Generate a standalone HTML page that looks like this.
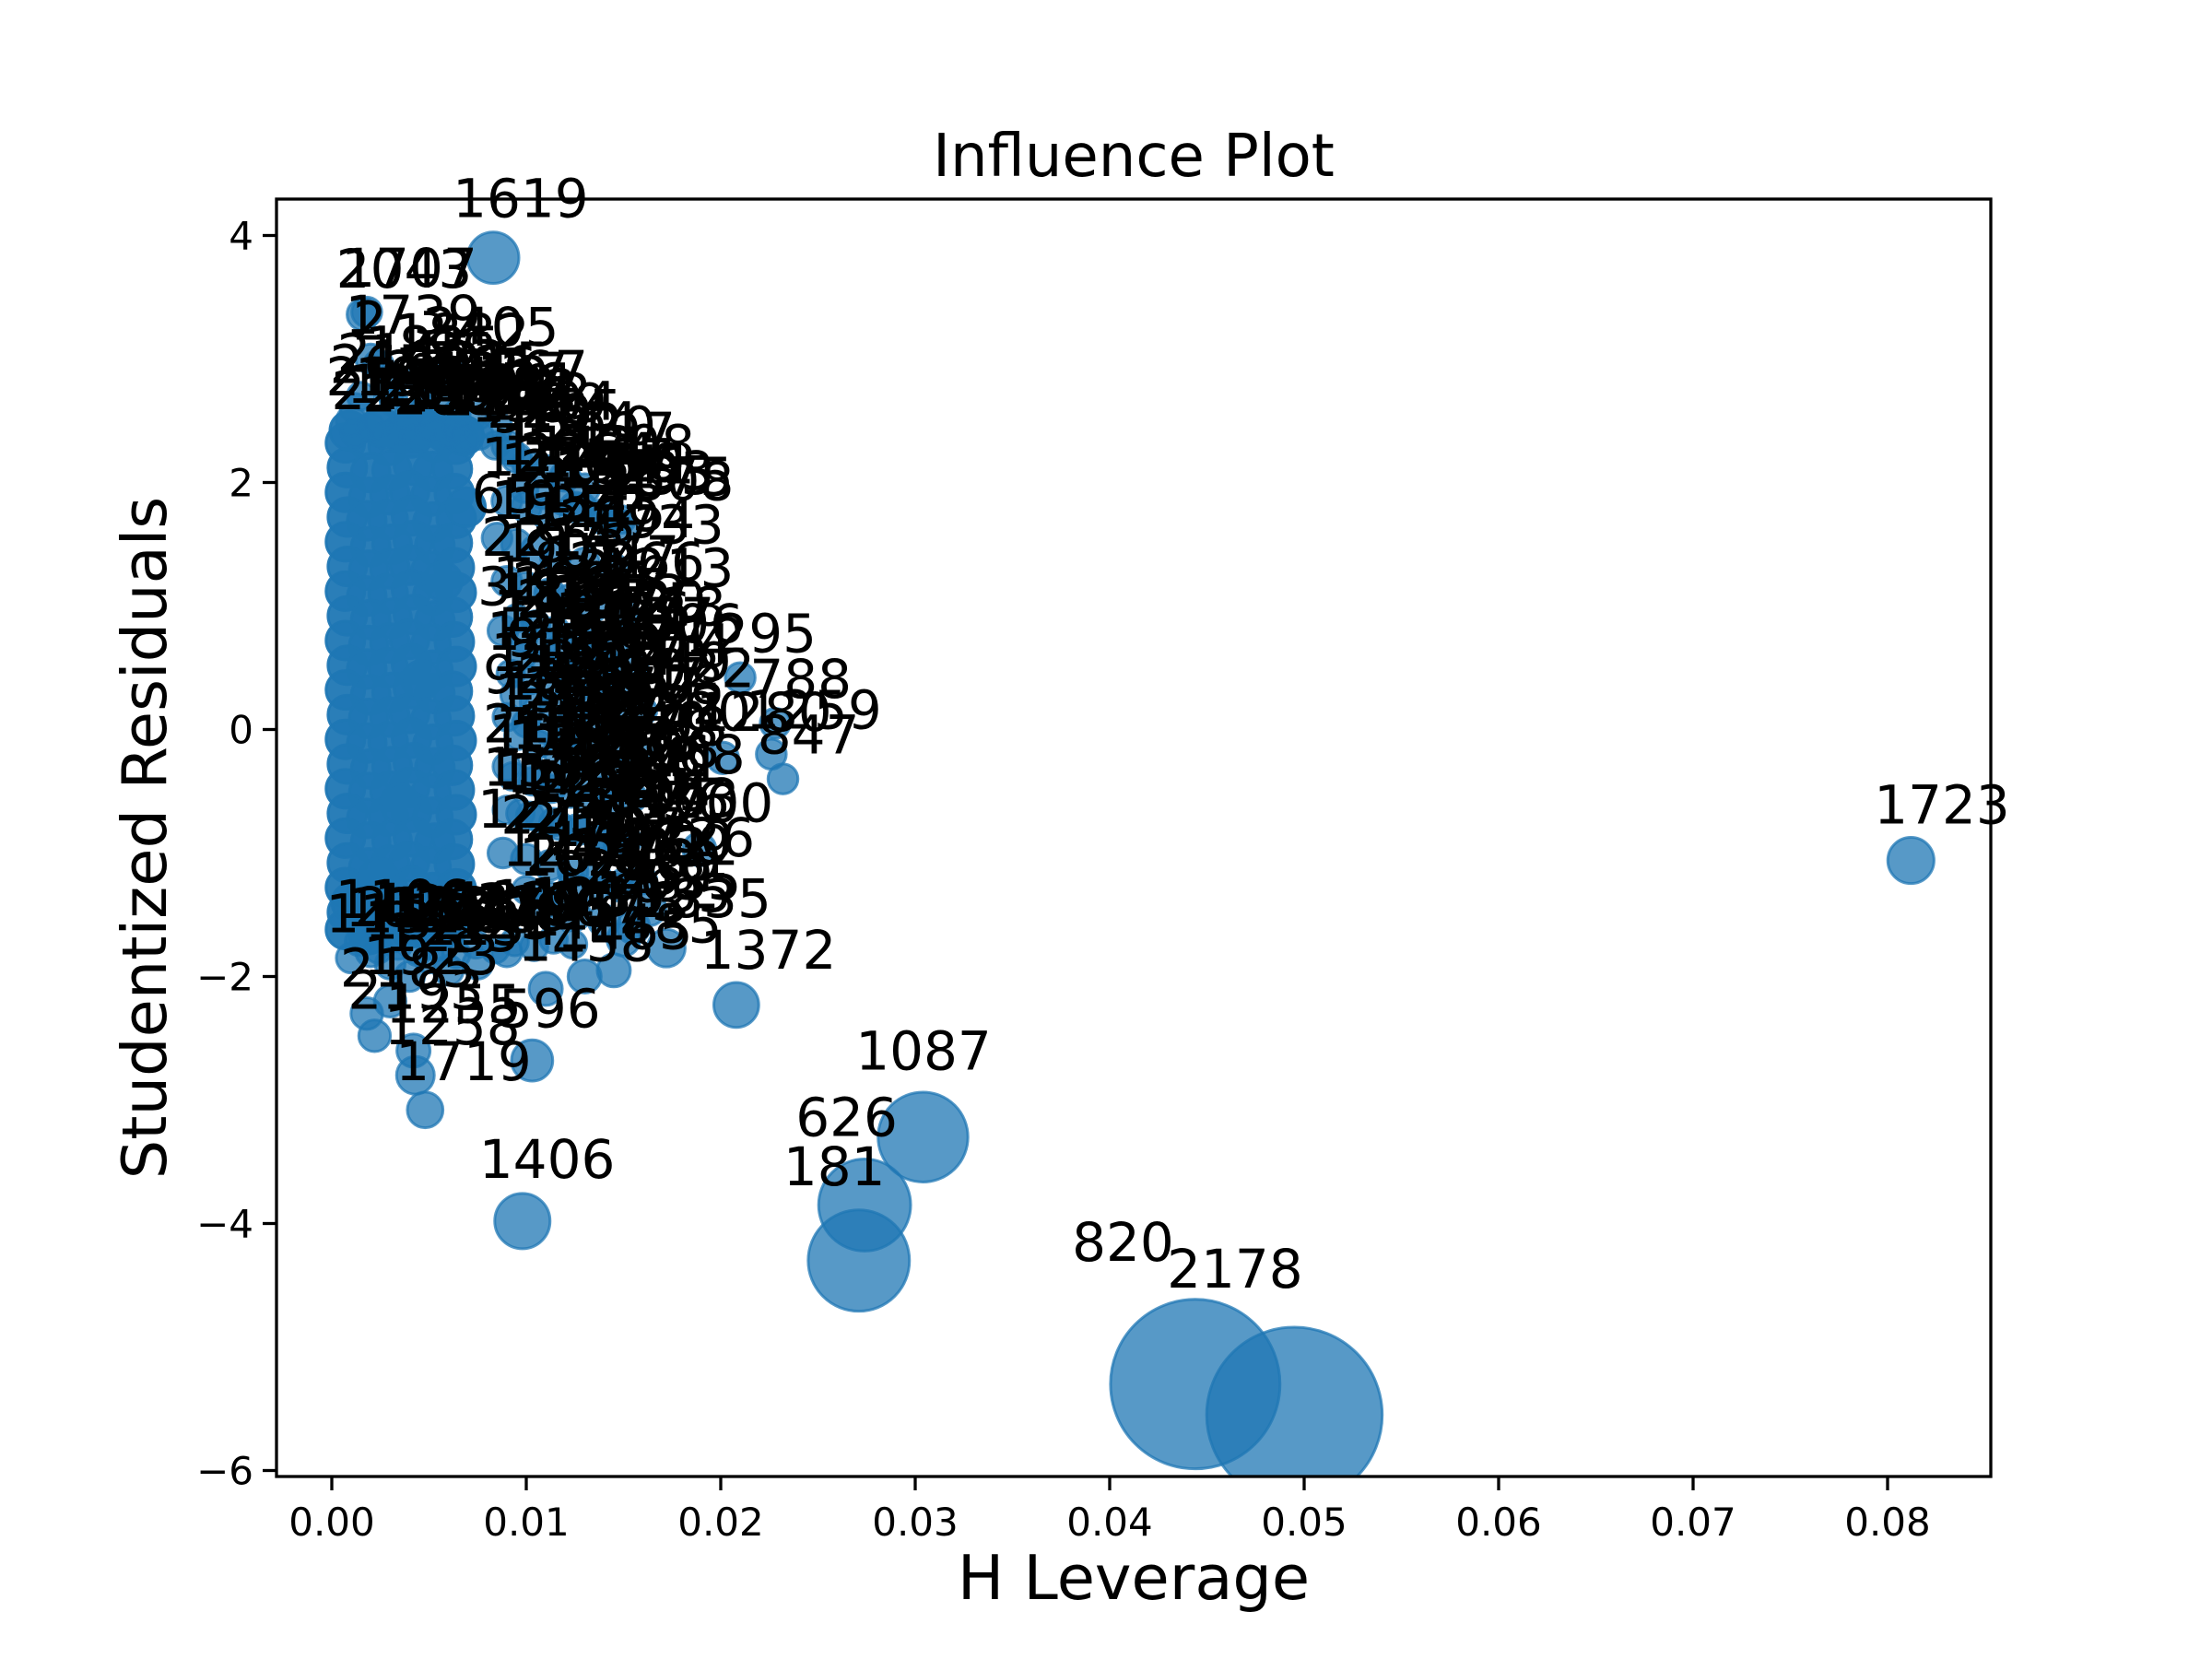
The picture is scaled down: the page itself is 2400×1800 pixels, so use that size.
<!DOCTYPE html>
<html><head><meta charset="utf-8">
<style>
html,body{margin:0;padding:0;background:#fff;}
svg{display:block;}
text{font-family:"DejaVu Sans","Liberation Sans",sans-serif;}
</style></head>
<body>
<svg id="chart" width="2400" height="1800" viewBox="0 0 2400 1800" xmlns="http://www.w3.org/2000/svg">
<rect x="0" y="0" width="2400" height="1800" fill="#fff"/>
<text x="1230" y="191" font-size="64" text-anchor="middle">Influence Plot</text>
<text x="1230" y="1735" font-size="67" text-anchor="middle">H Leverage</text>
<text x="0" y="0" font-size="67" text-anchor="middle" transform="translate(180,909) rotate(-90)">Studentized Residuals</text>
<g id="marks"></g>
<g id="labels"></g>
<g id="axes"></g>
</svg>
<script>
// x tick values and labels
const xTicks = [0,0.01,0.02,0.03,0.04,0.05,0.06,0.07,0.08];
const xTickLabels = ["0.00","0.01","0.02","0.03","0.04","0.05","0.06","0.07","0.08"];
const yTicks = [4,2,0,-2,-4,-6];
const yTickLabels = ["4","2","0","\u22122","\u22124","\u22126"];

// dense unlabeled cluster: leverage and studentized residuals
const blobLev = [
0.0007,0.0018,0.0029,0.0041,0.0053,0.0064,
0.0008,0.0020,0.0031,0.0042,0.0052,0.0062,
0.0007,0.0019,0.0030,0.0040,0.0051,0.0063,
0.0008,0.0018,0.0029,0.0041,0.0052,0.0064,
0.0007,0.0020,0.0031,0.0042,0.0053,0.0062,
0.0008,0.0019,0.0030,0.0040,0.0051,0.0063,
0.0007,0.0018,0.0029,0.0041,0.0052,0.0064,
0.0008,0.0020,0.0031,0.0042,0.0053,0.0062,
0.0007,0.0019,0.0030,0.0040,0.0051,0.0063,
0.0008,0.0018,0.0029,0.0041,0.0052,0.0064,
0.0007,0.0020,0.0031,0.0042,0.0053,0.0062,
0.0008,0.0019,0.0030,0.0040,0.0051,0.0063,
0.0007,0.0018,0.0029,0.0041,0.0052,0.0064,
0.0008,0.0020,0.0031,0.0042,0.0053,0.0062,
0.0007,0.0019,0.0030,0.0040,0.0051,0.0063,
0.0008,0.0018,0.0029,0.0041,0.0052,0.0064,
0.0007,0.0020,0.0031,0.0042,0.0053,0.0062,
0.0008,0.0019,0.0030,0.0040,0.0051,0.0063,
0.0007,0.0018,0.0029,0.0041,0.0052,0.0064,
0.0008,0.0020,0.0031,0.0042,0.0053,0.0062,
0.0007,0.0019,0.0030,0.0040,0.0051,0.0060,
0.0009,0.0025,0.0036,0.0047,0.0058,0.0068,
0.0010,0.0024,0.0035,0.0046,0.0057,0.0069
];
const blobRes = [
2.32,2.35,2.30,2.36,2.33,2.31,
2.12,2.08,2.10,2.14,2.09,2.11,
1.92,1.88,1.90,1.93,1.89,1.91,
1.72,1.69,1.70,1.73,1.68,1.71,
1.52,1.48,1.50,1.53,1.49,1.51,
1.32,1.29,1.30,1.33,1.28,1.31,
1.12,1.08,1.10,1.13,1.09,1.11,
0.92,0.89,0.90,0.93,0.88,0.91,
0.72,0.68,0.70,0.73,0.69,0.71,
0.52,0.49,0.50,0.53,0.48,0.51,
0.32,0.28,0.30,0.33,0.29,0.31,
0.12,0.09,0.10,0.13,0.08,0.11,
-0.08,-0.11,-0.10,-0.07,-0.12,-0.09,
-0.28,-0.32,-0.30,-0.27,-0.31,-0.29,
-0.48,-0.51,-0.50,-0.47,-0.52,-0.49,
-0.68,-0.72,-0.70,-0.67,-0.71,-0.69,
-0.88,-0.91,-0.90,-0.87,-0.92,-0.89,
-1.08,-1.12,-1.10,-1.07,-1.11,-1.09,
-1.28,-1.31,-1.30,-1.27,-1.32,-1.29,
-1.48,-1.52,-1.50,-1.47,-1.51,-1.49,
-1.62,-1.66,-1.65,-1.61,-1.64,-1.60,
2.42,2.45,2.40,2.44,2.41,2.38,
-1.40,-1.20,-0.60,0.40,1.20,1.80
];

// labeled points: leverage, residual, cook's distance, label
const ptLev = [0.0083,0.0812,0.0208,0.0304,0.0274,0.0271,0.0444,0.0495,0.0098,0.0210,0.0228,0.0232,0.0201,0.0226,0.0189,0.0163,0.0172,0.0048,0.0043,0.0103,
0.0016,0.0018,0.0020,0.0024,0.0045,0.0060,0.0012,0.0030,0.0055,0.0075,0.0085,0.0010,0.0025,0.0040,0.0065,0.0070,0.0090,0.0095,0.0110,0.0120,0.0130,
0.0090,0.0100,0.0110,0.0125,0.0140,0.0150,0.0085,0.0095,0.0105,0.0115,0.0130,0.0145,0.0090,0.0100,0.0112,0.0122,0.0135,0.0150,0.0088,0.0098,0.0108,0.0118,0.0128,0.0140,0.0155,
0.0092,0.0102,0.0112,0.0124,0.0136,0.0148,0.0160,0.0090,0.0100,0.0110,0.0120,0.0132,0.0145,0.0158,0.0090,0.0105,0.0118,0.0130,0.0142,0.0155,0.0090,0.0102,0.0114,0.0126,0.0138,0.0152,
0.0088,0.0100,0.0112,0.0124,0.0136,0.0150,0.0110,0.0125,0.0140,0.0155,
0.0010,0.0018,0.0022,0.0030,0.0040,0.0050,0.0060,0.0042,0.0075,0.0090,0.0110,0.0130,0.0145,0.0150,0.0030,0.0020,
0.0012,0.0020,0.0028,0.0036,0.0044,0.0052,0.0060,0.0068,0.0076,0.0084,0.0092,0.0100,0.0015,0.0032,0.0048,0.0064,
0.0095,0.0105,0.0115,0.0125,0.0135,0.0145,0.0098,0.0108,0.0118,0.0128,0.0138,0.0148,0.0094,0.0104,0.0114,0.0124,0.0134,0.0144,
0.0096,0.0106,0.0116,0.0126,0.0136,0.0146,0.0093,0.0103,0.0113,0.0123,0.0133,0.0143,0.0097,0.0107,0.0117,0.0127,0.0137,0.0147,
0.0099,0.0109,0.0119,0.0129,0.0139,0.0149,0.0100,0.0112,0.0124,0.0136,0.0148,0.0160,
0.0014,0.0024,0.0034,0.0044,0.0054,0.0064,0.0074,0.0084,0.0094,0.0104,0.0114,0.0124];
const ptRes = [3.82,-1.06,-2.23,-3.30,-3.85,-4.30,-5.30,-5.55,-3.98,0.42,0.05,-0.40,-0.23,-0.20,-0.97,-1.45,-1.77,-3.08,-2.80,-2.68,
3.36,3.38,3.00,2.95,2.85,2.90,2.60,2.75,2.62,2.55,2.45,2.50,2.50,2.55,2.45,2.40,2.30,2.20,2.10,2.05,1.95,
1.85,1.80,1.75,1.80,1.70,1.65,1.55,1.50,1.45,1.40,1.35,1.30,1.20,1.15,1.10,1.05,1.00,0.95,0.80,0.75,0.70,0.65,0.60,0.55,0.50,
0.45,0.40,0.35,0.30,0.25,0.20,0.15,0.10,0.05,0.00,-0.05,-0.10,-0.15,-0.20,-0.30,-0.35,-0.40,-0.45,-0.50,-0.55,-0.65,-0.70,-0.75,-0.80,-0.85,-0.90,
-1.00,-1.05,-1.10,-1.15,-1.20,-1.25,-1.40,-1.50,-1.55,-1.60,
-1.85,-2.30,-2.48,-1.90,-2.00,-1.85,-1.95,-2.60,-1.90,-1.80,-2.10,-2.00,-1.95,-1.70,-2.20,-1.80,
2.40,2.45,2.38,2.42,2.36,2.44,2.40,2.35,2.38,2.30,2.25,2.15,2.70,2.65,2.60,2.55,
0.90,0.85,0.80,0.75,0.70,0.65,0.60,0.55,0.50,0.45,0.40,0.35,0.28,0.22,0.18,0.12,0.08,0.02,
-0.05,-0.12,-0.18,-0.22,-0.28,-0.32,-0.38,-0.42,-0.48,-0.52,-0.58,-0.62,-0.68,-0.72,-0.78,-0.82,-0.88,-0.92,
1.95,1.90,1.85,1.80,1.75,1.70,-1.30,-1.35,-1.25,-1.30,-1.28,-1.22,
-1.72,-1.78,-1.75,-1.80,-1.76,-1.82,-1.74,-1.78,-1.72,-1.76,-1.70,-1.74];
const ptCook = [0.0028,0.0019,0.0017,0.015,0.016,0.0205,0.071,0.077,0.0036,0.0002,0.0002,0.0002,0.0003,0.0002,0.0004,0.0005,0.0008,0.0006,0.0008,0.0012,
0.0003,0.0002,0.0002,0.0002,0.0002,0.0002,0.0002,0.0002,0.0002,0.0002,0.0002,0.0002,0.0002,0.0002,0.0002,0.0002,0.0002,0.0002,0.0002,0.0002,0.0002,
0.0002,0.0002,0.0002,0.0002,0.0002,0.0002,0.0002,0.0002,0.0002,0.0002,0.0002,0.0002,0.0002,0.0002,0.0002,0.0002,0.0002,0.0002,0.0002,0.0002,0.0002,0.0002,0.0002,0.0002,0.0002,
0.0001,0.0001,0.0001,0.0001,0.0001,0.0001,0.0001,0.0001,0.0001,0.0001,0.0001,0.0001,0.0001,0.0001,0.0001,0.0001,0.0001,0.0001,0.0001,0.0001,0.0001,0.0001,0.0001,0.0001,0.0001,0.0001,
0.0002,0.0002,0.0002,0.0002,0.0002,0.0002,0.0003,0.0003,0.0003,0.0004,
0.0002,0.0003,0.0003,0.0002,0.0002,0.0002,0.0002,0.0004,0.0002,0.0002,0.0004,0.0004,0.0004,0.0004,0.0003,0.0002,
0.0001,0.0001,0.0001,0.0001,0.0001,0.0001,0.0001,0.0001,0.0001,0.0001,0.0001,0.0001,0.0001,0.0001,0.0001,0.0001,
0.0001,0.0001,0.0001,0.0001,0.0001,0.0001,0.0001,0.0001,0.0001,0.0001,0.0001,0.0001,0.0001,0.0001,0.0001,0.0001,0.0001,0.0001,
0.0001,0.0001,0.0001,0.0001,0.0001,0.0001,0.0001,0.0001,0.0001,0.0001,0.0001,0.0001,0.0001,0.0001,0.0001,0.0001,0.0001,0.0001,
0.0001,0.0001,0.0001,0.0001,0.0001,0.0001,0.0001,0.0001,0.0001,0.0001,0.0001,0.0001,
0.0001,0.0001,0.0001,0.0001,0.0001,0.0001,0.0001,0.0001,0.0001,0.0001,0.0001,0.0001];
const ptLabel = ["1619","1723","1372","1087","626","181","820","2178","1406","295","788","847","1280","1259","700","369","1835","1719","1258","596",
"2043","1707","1739","2","1882","2405","265","1835","2215","2567","724","2108","1984","2233","1576","1462","1404","919","1520","2097","2208",
"1271","1606","2151","2019","1295","2308","651","1934","1882","1445","2094","1733","2214","1873","903","1547","2066","1213","3106","1847","2287","1932","1906","1777","1006",
"1297","913","1762","2187","2040","1349","1022","925","1842","1567","2301","1774","1282","2280","2113","1546","1935","2036","1808","1968","1536","1417","1291","1820","1955","1403",
"1274","2250","2193","1707","1955","1700","1622","1293","1869","2035",
"1152","2185","2193","1322","1285","1763","1134","1255","1234","1585","1458","1465","1485","1335","1923","1612",
"2113","1203","2258","1820","2061","1498","2317","1126","2082","1399","2285","1544","2145","1683","2206","1327",
"1438","2090","1267","1853","2120","1718","1096","2362","1580","1924","1671","2014","1190","2275","1836","1461","2237","1578",
"1305","2171","1622","1957","1240","2398","1084","1769","2026","1315","1893","2141","1530","1702","2219","1367","1804","2056",
"1112","2264","1487","1941","2233","1675","1249","2077","1398","1813","2159","1726",
"1106","2138","1253","1690","2011","1378","1825","2200","1430","1967","1289","2143"];

const L=300, R=2160, T=216, B=1602;
function xS(v){ return 360 + v*21100; }
function yS(v){ return 791.5 - v*134; }
function rS(c){ return 12 + 300*Math.sqrt(c); }

const NS="http://www.w3.org/2000/svg";
const marks=document.getElementById('marks');
const labels=document.getElementById('labels');
const axes=document.getElementById('axes');
const clip=document.createElementNS(NS,'clipPath');
clip.setAttribute('id','clipA');
const cr=document.createElementNS(NS,'rect');
cr.setAttribute('x',L);cr.setAttribute('y',T);cr.setAttribute('width',R-L);cr.setAttribute('height',B-T);
clip.appendChild(cr);
document.getElementById('chart').appendChild(clip);
marks.setAttribute('clip-path','url(#clipA)');

function dot(x,y,r,name,op){
  const c=document.createElementNS(NS,'circle');
  c.setAttribute('cx',x);c.setAttribute('cy',y);c.setAttribute('r',r);
  c.setAttribute('fill','#1f77b4');c.setAttribute('fill-opacity',op);
  c.setAttribute('stroke','#1f77b4');c.setAttribute('stroke-opacity',op);c.setAttribute('stroke-width','3');
  
  
  marks.appendChild(c);
}
for(let i=0;i<blobLev.length;i++){
  dot(xS(blobLev[i]),yS(blobRes[i]),rS(0.0001)+6,'point','0.95');
}
for(let i=0;i<ptLev.length;i++){
  dot(xS(ptLev[i]),yS(ptRes[i]),rS(ptCook[i]),'point-'+ptLabel[i],'0.75');
}
for(let i=0;i<ptLev.length;i++){
  const r=rS(ptCook[i]); const off=1.4*r+5;
  const t=document.createElementNS(NS,'text');
  t.setAttribute('x',xS(ptLev[i])-off);t.setAttribute('y',yS(ptRes[i])-off);
  t.setAttribute('font-size','58');
  t.textContent=ptLabel[i];
  
  
  labels.appendChild(t);
}
// spines
const fr=document.createElementNS(NS,'rect');
fr.setAttribute('x',L);fr.setAttribute('y',T);fr.setAttribute('width',R-L);fr.setAttribute('height',B-T);
fr.setAttribute('fill','none');fr.setAttribute('stroke','#000');fr.setAttribute('stroke-width','3.3');


axes.appendChild(fr);
for(let i=0;i<xTicks.length;i++){
  const x=xS(xTicks[i]);
  const l=document.createElementNS(NS,'line');
  l.setAttribute('x1',x);l.setAttribute('x2',x);l.setAttribute('y1',B);l.setAttribute('y2',B+15);
  l.setAttribute('stroke','#000');l.setAttribute('stroke-width','3.3');
  
  
  axes.appendChild(l);
  const t=document.createElementNS(NS,'text');
  t.setAttribute('x',x);t.setAttribute('y',B+64);t.setAttribute('font-size','42');t.setAttribute('text-anchor','middle');
  t.textContent=xTickLabels[i];
  
  
  axes.appendChild(t);
}
for(let i=0;i<yTicks.length;i++){
  const y=yS(yTicks[i]);
  const l=document.createElementNS(NS,'line');
  l.setAttribute('x1',L-15);l.setAttribute('x2',L);l.setAttribute('y1',y);l.setAttribute('y2',y);
  l.setAttribute('stroke','#000');l.setAttribute('stroke-width','3.3');
  
  
  axes.appendChild(l);
  const t=document.createElementNS(NS,'text');
  t.setAttribute('x',L-25);t.setAttribute('y',y+15);t.setAttribute('font-size','42');t.setAttribute('text-anchor','end');
  t.textContent=yTickLabels[i];
  
  
  axes.appendChild(t);
}
</script>
</body></html>
